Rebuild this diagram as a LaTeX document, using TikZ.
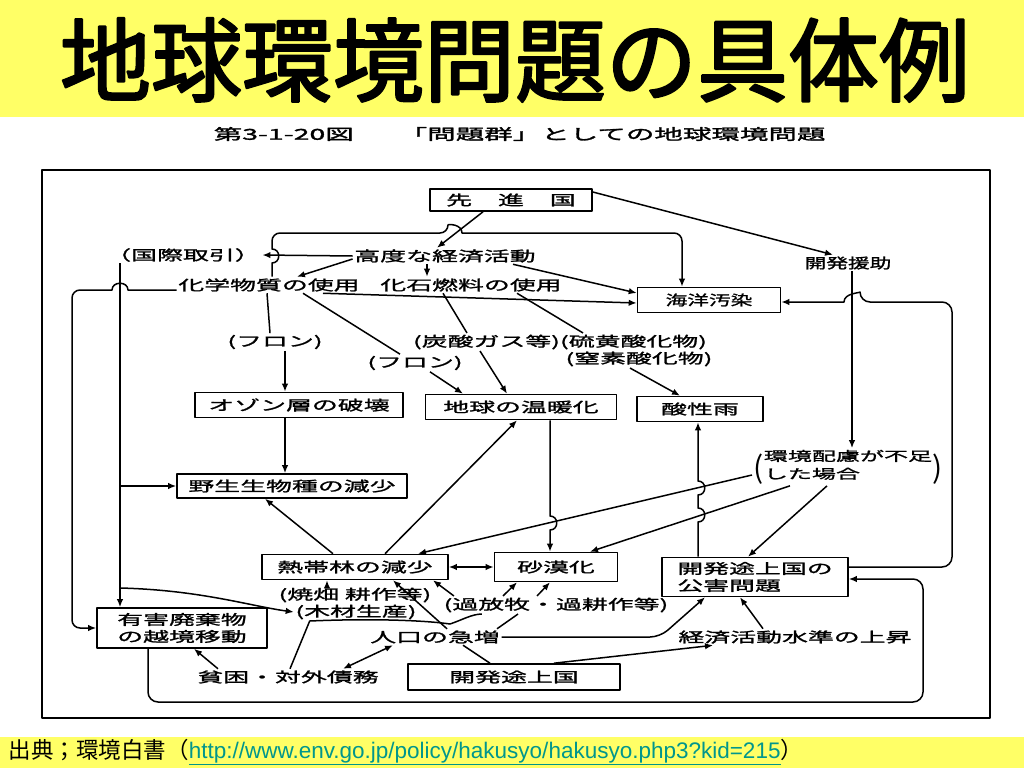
\documentclass[tikz,border=0pt]{standalone}
\usepackage{fontspec}
\usetikzlibrary{arrows.meta}

\newfontfamily\jpfont{Noto Sans CJK JP}
\newfontfamily\jptitle[FakeBold=2.5]{Noto Sans CJK JP}
\newfontfamily\jpwide[FakeStretch=1.85,FakeBold=1.5]{Noto Sans CJK JP}
\newfontfamily\jpnarrow[FakeStretch=1.55,FakeBold=1.5]{Noto Sans CJK JP}
\newfontfamily\jpsub[FakeStretch=1.9,FakeBold=2]{Noto Sans CJK JP}
\newfontfamily\urlfont{Liberation Sans}

\definecolor{slideyellow}{RGB}{255,255,102}
\definecolor{urlteal}{RGB}{0,150,140}

\tikzset{
    box/.style={draw, line width=1.6pt, inner sep=0pt,
        font=\jpwide\fontsize{14}{17}\selectfont},
    lbl/.style={inner sep=1pt, font=\jpwide\fontsize{14}{14}\selectfont},
    subcap/.style={inner sep=0pt, font=\jpsub\fontsize{15}{15}\selectfont},
    arr/.style={-{Latex[length=8pt,width=6.5pt]}},
    darr/.style={{Latex[length=8pt,width=6.5pt]}-{Latex[length=8pt,width=6.5pt]}}
}

\begin{document}
\begin{tikzpicture}[x=1pt, y=-1pt, line width=1.5pt, line join=round]

        % Slide background with its two yellow bands.
        \useasboundingbox (0,0) rectangle (1024,768);
        \fill[white] (0,0) rectangle (1024,768);
        \fill[slideyellow] (0,0) rectangle (1024,117);
        \fill[slideyellow] (0,737) rectangle (1024,768);

        % Title, caption of the figure and source line.
        \node[inner sep=0pt, font=\jptitle\fontsize{91}{91}\selectfont]
            (title) at (515,60) {地球環境問題の具体例};
        \node[subcap, anchor=west] (capnum) at (213,134) {第3-1-20図};
        \node[subcap, anchor=west] (captext) at (398,134) {「問題群」としての地球環境問題};
        \node[inner sep=0pt, anchor=west] (source) at (8,752)
            {{\jpfont\fontsize{22.5}{24}\selectfont 出典；環境白書（}{\urlfont\fontsize{22.5}{24}\selectfont\color{urlteal}\underline{http://www.env.go.jp/policy/hakusyo/hakusyo.php3?kid=215}}{\jpfont\fontsize{22.5}{24}\selectfont ）}};

        % Frame of the figure.
        \draw[line width=2.4pt] (42,170) rectangle (990,718);

        % Boxed problems.
        \node[box, minimum width=162, minimum height=22] (senshin) at (511,200) {先　進　国};
        \node[box, font=\jpnarrow\fontsize{14}{14}\selectfont, minimum width=143, minimum height=25]
            (kaiyou) at (709,300) {海洋汚染};
        \node[box, minimum width=208, minimum height=25] (ozone) at (299,405) {オゾン層の破壊};
        \node[box, minimum width=191, minimum height=25] (ondanka) at (521,407) {地球の温暖化};
        \node[box, minimum width=126, minimum height=25] (sanseiu) at (700,409) {酸性雨};
        \node[box, minimum width=230, minimum height=24] (yasei) at (292,486) {野生生物種の減少};
        \node[box, minimum width=186, minimum height=25] (nettai) at (355,567) {熱帯林の減少};
        \node[box, minimum width=123, minimum height=29] (sabaku) at (556,567) {砂漠化};
        \node[box, align=left, minimum width=186, minimum height=39]
            (kougai) at (755,577) {開発途上国の\\公害問題};
        \node[box, align=center, minimum width=170, minimum height=40]
            (yugai) at (182,628) {有害廃棄物\\の越境移動};
        \node[box, minimum width=212, minimum height=26] (tojou) at (514,677) {開発途上国};

        % Free labels.
        \node[lbl] (koudo) at (445,256) {高度な経済活動};
        \node[lbl] (kokusai) at (183,255) {（国際取引）};
        \node[lbl] (kagaku) at (269,285) {化学物質の使用};
        \node[lbl] (kaseki) at (471,285) {化石燃料の使用};
        \node[lbl, font=\jpnarrow\fontsize{14}{14}\selectfont] (enjo) at (848,263) {開発援助};
        \node[lbl] (freon1) at (275,342) {(フロン)};
        \node[lbl] (tansan) at (560,342) {(炭酸ガス等)(硫黄酸化物)};
        \node[lbl] (chisso) at (639,359) {(窒素酸化物)};
        \node[lbl] (freon2) at (415,363) {(フロン)};
        \node[lbl, font=\jpwide\fontsize{13}{13}\selectfont] (hairyo) at (848,467)
            {\raisebox{-9pt}{\jpfont\fontsize{30}{30}\selectfont (}\begin{tabular}{@{}l@{}}環境配慮が不足\\[3pt]した場合\end{tabular}\raisebox{-9pt}{\jpfont\fontsize{30}{30}\selectfont )}};
        \node[lbl] (yakihata) at (355,595) {(焼畑 耕作等)};
        \node[lbl] (mokuzai) at (356,612) {(木材生産)};
        \node[lbl] (kahoboku) at (556,605) {(過放牧・過耕作等)};
        \node[lbl] (jinkou) at (435,637) {人口の急増};
        \node[lbl] (keizai) at (795,637) {経済活動水準の上昇};
        \node[lbl] (hinkon) at (288,677) {貧困・対外債務};

        % Branch points on the trade line.
        \coordinate (trade1) at (120,486);
        \coordinate (trade2) at (120,588);

        % Connectors of the upper half.
        \draw[arr] ([xshift=-28pt]senshin.south) -- ([xshift=-8pt]koudo.north);
        \draw[arr] ([yshift=8pt]senshin.east) -- ([xshift=-15pt]enjo.north);
        \draw[arr] (koudo.west) -- (kokusai.east);
        \draw[arr] ([yshift=-3pt]koudo.west) -- ([xshift=28pt]kagaku.north);
        \draw[arr] ([xshift=-18pt]koudo.south) -- ([xshift=-44pt]kaseki.north);
        \draw[arr] ([xshift=68pt]koudo.south) -- ([yshift=7pt]kaiyou.west);
        \draw[arr] ([xshift=54pt]kagaku.south) -- ([yshift=-3pt]kaiyou.west);
        \draw[arr] ([xshift=3pt]kagaku.north) -- (272,263)
            .. controls (281,263) and (281,249) .. (272,249)
            [rounded corners=8pt] -- (272,233) -- (448,233)
            [sharp corners] .. controls (448,224) and (462,224) .. (462,233)
            [rounded corners=8pt] -- (682,233) -- ([xshift=-27pt]kaiyou.north);
        \draw[arr] ([yshift=-5pt]kagaku.west) -- (128,290)
            .. controls (128,281) and (112,281) .. (112,290)
            [rounded corners=8pt] -- (72,290) -- (72,628) -- (yugai.west);
        \draw[arr] ([xshift=-63pt]kokusai.south) -- ([xshift=-62pt]yugai.north);
        \draw[arr] (trade1) -- (yasei.west);
        \draw[arr] (trade2) .. controls (200,590) and (250,606) .. (mokuzai.west);

        % Gases to the atmosphere problems.
        \draw ([xshift=-2pt]kagaku.south) -- ([xshift=-5pt]freon1.north);
        \draw[arr] ([xshift=10pt]freon1.south) -- ([xshift=-14pt]ozone.north);
        \draw ([xshift=34pt]kagaku.south) -- ([xshift=-15pt]freon2.north);
        \draw[arr] ([xshift=15pt]freon2.south) -- ([xshift=-58pt]ondanka.north);
        \draw ([xshift=-28pt]kaseki.south) -- ([xshift=-93pt]tansan.north);
        \draw[arr] ([xshift=-80pt]tansan.south) -- ([xshift=-14pt]ondanka.north);
        \draw ([xshift=46pt]kaseki.south) -- ([xshift=23pt]tansan.north);
        \draw[arr] ([xshift=-9pt]chisso.south) -- ([xshift=-20pt]sanseiu.north);

        % Middle of the figure.
        \draw[arr] ([xshift=-14pt]ozone.south) -- ([xshift=-7pt]yasei.north);
        \draw[arr] ([xshift=-22pt]nettai.north) -- ([xshift=-27pt]yasei.south);
        \draw[arr] ([xshift=30pt]nettai.north) -- ([xshift=-4pt]ondanka.south);
        \draw[arr] ([xshift=29pt]ondanka.south) -- (550,516)
            .. controls (559,516) and (559,530) .. (550,530) -- ([xshift=-6pt]sabaku.north);
        \draw[darr] (nettai.east) -- (sabaku.west);
        \draw[arr] ([xshift=4pt]enjo.south) -- ([xshift=4pt]hairyo.north);
        \draw[arr] ([yshift=-8pt]hairyo.west) -- ([xshift=63pt]nettai.north);
        \draw[arr] ([xshift=-58pt]hairyo.south) -- ([xshift=34pt]sabaku.north);
        \draw[arr] ([xshift=-21pt]hairyo.south) -- ([xshift=-7pt]kougai.north);
        \draw[arr] ([xshift=-57pt]kougai.north) -- (698,522)
            .. controls (707,522) and (707,508) .. (698,508) -- (698,495)
            .. controls (707,495) and (707,481) .. (698,481) -- ([xshift=-2pt]sanseiu.south);
        \draw[arr] ([yshift=10pt]kougai.east) [rounded corners=10pt] -- (952,567) -- (952,302)
            -- (860,302) [sharp corners] .. controls (860,293) and (844,293) .. (844,302)
            -- ([yshift=-2pt]kaiyou.east);

        % Lower half, around the developing countries.
        \draw[arr] ([xshift=-28pt]yakihata.north) -- ([xshift=-28pt]nettai.south);
        \draw[arr] ([xshift=12pt]jinkou.north) -- ([xshift=38pt]nettai.south);
        \draw[arr] ([xshift=12pt]kahoboku.north west) -- ([xshift=78pt]nettai.south);
        \draw[arr] ([xshift=-53pt]kahoboku.north) -- ([xshift=-39pt]sabaku.south);
        \draw[arr] ([xshift=-19pt]kahoboku.north) -- ([xshift=-6pt]sabaku.south);
        \draw ([xshift=2pt]hinkon.north) -- ([xshift=16pt]mokuzai.south west)
            .. controls (380,618) and (430,621) .. (450,624)
            .. controls (462,620) and (472,614) .. ([xshift=40pt]kahoboku.south west);
        \draw ([xshift=62pt]jinkou.north) -- ([xshift=-38pt]kahoboku.south);
        \draw[darr] ([xshift=55pt]hinkon.north) -- ([xshift=-42pt]jinkou.south);
        \draw[arr] ([xshift=-70pt]hinkon.north) -- ([xshift=12pt]yugai.south);
        \draw ([xshift=-24pt]tojou.north) -- ([xshift=28pt]jinkou.south);
        \draw[arr] ([xshift=40pt]tojou.north) -- ([xshift=-82pt]keizai.south);
        \draw[arr, rounded corners=10pt] (jinkou.east) -- (660,637) -- ([xshift=-50pt]kougai.south);
        \draw[arr] ([xshift=-32pt]keizai.north) -- ([xshift=-15pt]kougai.south);
        \draw[arr, rounded corners=10pt] ([xshift=-34pt]yugai.south) -- (148,702) -- (923,702)
            -- (923,579) -- ([yshift=-2pt]kougai.east);
    \end{tikzpicture}
\end{document}
